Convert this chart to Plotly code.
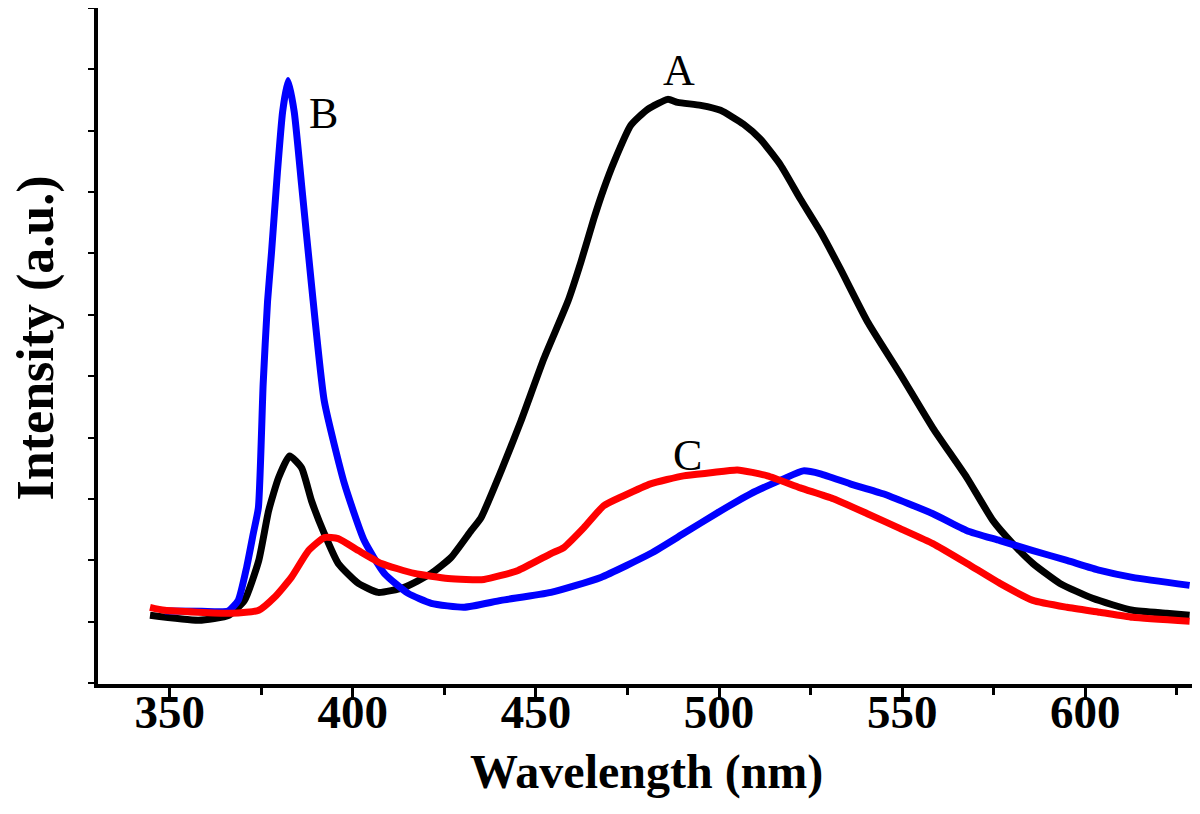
import plotly.graph_objects as go

# Curve A (black)
a_wl = [344.6, 357.9, 366.1, 370.4, 374.3, 377.0, 379.7, 382.7, 386.0, 388.7, 392.2, 396.0,
        401.5, 406.9, 414.0, 421.4, 426.8, 432.3, 435.0, 440.5, 445.9, 452.2, 458.7, 462.3,
        465.8, 468.5, 471.3, 475.9, 480.5, 486.0, 488.7, 495.0, 500.4, 506.7, 511.3, 516.8,
        522.2, 527.7, 533.1, 540.5, 549.5, 558.4, 567.7, 574.8, 580.2, 585.7, 593.1, 602.0,
        612.9, 622.2, 628.5]
a_int = [104, 23, 104, 347, 997, 1808, 2344, 2700, 2506, 1970, 1435, 948,
         623, 477, 558, 786, 1045, 1483, 1694, 2457, 3269, 4291, 5216, 5866,
         6564, 7050, 7489, 8089, 8349, 8511, 8462, 8414, 8333, 8105, 7862, 7440,
         6888, 6353, 5752, 4892, 4032, 3155, 2344, 1646, 1272, 948, 623, 380,
         185, 136, 104]

# Curve B (blue)
b_wl = [348.6, 358.7, 366.0, 368.7, 371.0, 372.8, 374.2, 375.5, 376.7, 377.8, 379.4, 380.8,
        382.3, 384.0, 386.0, 388.7, 392.2, 397.7, 403.1, 408.6, 415.1, 421.4, 430.4, 440.5,
        454.1, 467.7, 481.3, 490.3, 499.6, 508.6, 517.6, 523.0, 527.7, 535.8, 544.8, 558.4,
        567.7, 576.7, 585.7, 595.0, 604.0, 612.9, 628.5]
b_int = [174, 169, 174, 347, 888, 1435, 1857, 3869, 5216, 6028, 7326, 8300,
         8819, 8300, 7116, 5493, 3593, 2246, 1321, 786, 461, 299, 234, 347,
         477, 721, 1110, 1435, 1776, 2084, 2327, 2457, 2409, 2246, 2084, 1759,
         1483, 1321, 1159, 997, 834, 721, 591]

# Curve C (red)
c_wl = [344.6, 348.6, 366.9, 374.3, 378.6, 383.2, 387.9, 392.2, 396.0, 401.5, 407.8, 416.8,
        426.0, 435.8, 445.1, 454.1, 457.6, 463.1, 468.5, 474.0, 481.3, 490.3, 497.7, 505.0,
        513.2, 522.2, 531.2, 540.5, 549.5, 558.4, 567.7, 576.7, 585.7, 595.0, 604.0, 612.9,
        628.5]
c_int = [234, 185, 136, 185, 396, 721, 1159, 1370, 1354, 1159, 948, 786,
         704, 688, 834, 1110, 1208, 1532, 1889, 2052, 2246, 2376, 2425, 2473,
         2376, 2181, 2003, 1759, 1516, 1272, 948, 623, 347, 234, 153, 71,
         6]

x_ticks = [350, 400, 450, 500, 550, 600]
labels = ["A", "B", "C"]
label_x = [489.0, 391.9, 491.3]
label_y = [8982, 8289, 2701]

serif = "Liberation Serif, Times New Roman, serif"

fig = go.Figure()
for wl, inten, col in [(a_wl, a_int, "#000000"), (b_wl, b_int, "#0000FF"), (c_wl, c_int, "#FF0000")]:
    fig.add_trace(go.Scatter(x=wl, y=inten, mode="lines",
                             line=dict(color=col, width=7, shape="spline", smoothing=0.5),
                             showlegend=False))

for t, lx, ly in zip(labels, label_x, label_y):
    fig.add_annotation(x=lx, y=ly, text=t, showarrow=False,
                       font=dict(family=serif, size=44, color="#000000"))

# axis titles
fig.add_annotation(xref="paper", yref="paper", x=0.5, y=-0.13, xanchor="center", yanchor="middle",
                   text="Wavelength (nm)", showarrow=False,
                   font=dict(family=serif, size=48, color="black", weight="bold"))
fig.add_annotation(xref="paper", yref="paper", x=-0.057, y=0.512, xanchor="center", yanchor="middle",
                   text="Intensity (a.u.)", showarrow=False, textangle=-90,
                   font=dict(family=serif, size=52, color="black", weight="bold"))

fig.update_layout(
    width=1192, height=806,
    margin=dict(l=90, r=6, t=0, b=130, autoexpand=False),
    paper_bgcolor="white", plot_bgcolor="white",
    showlegend=False,
)
fig.update_xaxes(
    range=[330.4, 629.7], automargin=False,
    tickvals=x_ticks, ticktext=[str(v) for v in x_ticks],
    ticks="outside", ticklen=12, tickwidth=3, tickcolor="black",
    ticklabelstandoff=-28,
    minor=dict(ticks="outside", ticklen=7, tickwidth=3, tickcolor="black", dtick=25, tick0=325),
    showline=True, linewidth=3.5, linecolor="black", mirror=True,
    showgrid=False, zeroline=False,
    tickfont=dict(family=serif, size=47, color="black", weight="bold"),
)
fig.update_yaxes(
    range=[-1016, 10000], automargin=False,
    tick0=0, dtick=1000,
    ticks="outside", ticklen=6, tickwidth=1.5, tickcolor="black",
    showticklabels=False,
    showline=True, linewidth=3.5, linecolor="black", mirror="ticks",
    showgrid=False, zeroline=False,
)

fig.write_html("out.html")
